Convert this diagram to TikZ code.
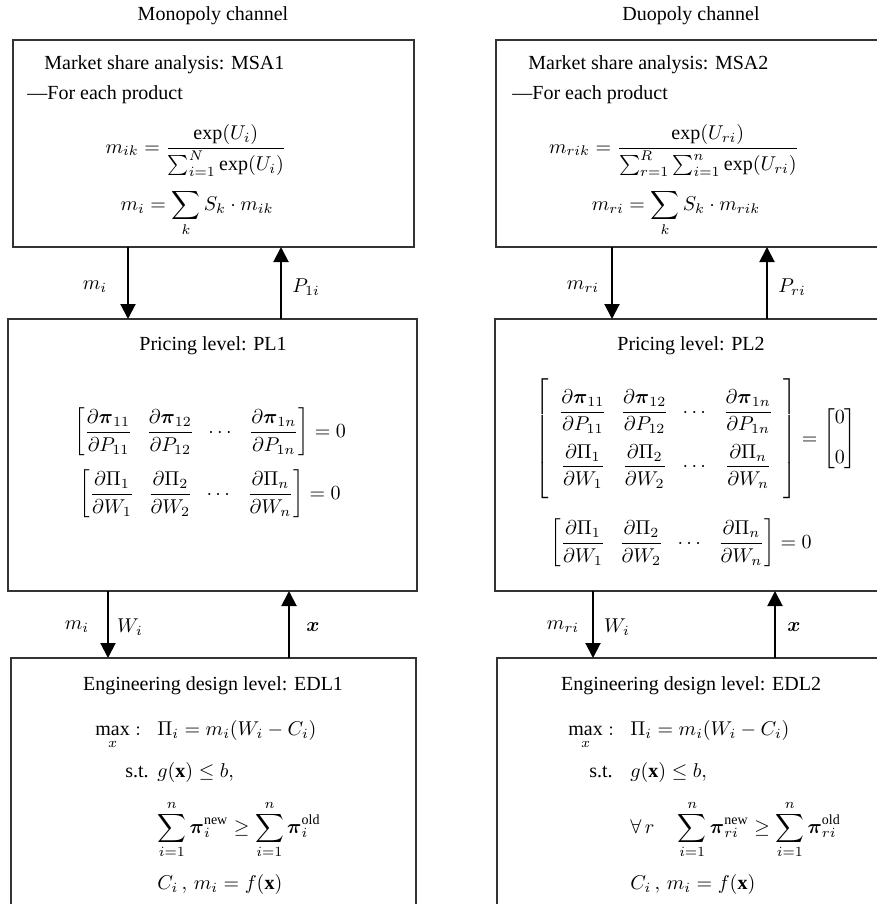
\documentclass[tikz,border=0pt]{standalone}
\usepackage{amsmath,amssymb}
\usepackage{fontspec}
\setmainfont{Liberation Serif}
\usetikzlibrary{arrows.meta}
\setlength{\arraycolsep}{3.5pt}
\begin{document}
\begin{tikzpicture}[x=0.5pt,y=-0.5pt,
  box/.style={draw=black!80, line width=0.75pt, inner sep=0pt, outer sep=0pt, rectangle},
  arr/.style={line width=1pt, -{Triangle[width=7.5pt,length=7.5pt]}},
  lbl/.style={inner sep=0pt},
  txt/.style={inner sep=0pt}]
\useasboundingbox (0,0) rectangle (877,904);
\clip (0,0) rectangle (877,904);

% titles
\node[txt, anchor=base] (t1) at (213,21) {Monopoly channel};
\node[txt, anchor=base] (t2) at (691,21) {Duopoly channel};

% boxes
\node[box, minimum width=200.5pt, minimum height=103.5pt] (msa1) at (213.5,143.5) {};
\node[box, minimum width=204.5pt, minimum height=136pt] (pl1) at (212.5,455) {};
\node[box, minimum width=202.5pt, minimum height=136pt] (edl1) at (213.5,794) {};
\node[box, minimum width=202pt, minimum height=103.5pt] (msa2) at (698,143.5) {};
\node[box, minimum width=202.5pt, minimum height=136pt] (pl2) at (697.5,455) {};
\node[box, minimum width=201.5pt, minimum height=136pt] (edl2) at (698.5,794) {};

% MSA1
\node[txt, anchor=base west] (msa1t) at (44,70) {Market share analysis: MSA1};
\node[txt, anchor=base west] (msa1f) at (27,100) {---For each product};
\node[txt, anchor=base] (msa1e1) at (196,153) {$\displaystyle m_{ik}=\frac{\exp(U_i)}{\sum_{i=1}^{N}\exp(U_i)}$};
\node[txt, anchor=base] (msa1e2) at (197,210) {$\displaystyle m_{i}=\sum_{k} S_k\cdot m_{ik}$};

% MSA2
\node[txt, anchor=base west] (msa2t) at (528,70) {Market share analysis: MSA2};
\node[txt, anchor=base west] (msa2f) at (512,100) {---For each product};
\node[txt, anchor=base] (msa2e1) at (674,153) {$\displaystyle m_{rik}=\frac{\exp(U_{ri})}{\sum_{r=1}^{R}\sum_{i=1}^{n}\exp(U_{ri})}$};
\node[txt, anchor=base] (msa2e2) at (676,210) {$\displaystyle m_{ri}=\sum_{k} S_k\cdot m_{rik}$};

% PL1
\node[txt, anchor=base] (pl1t) at (213,350) {Pricing level: PL1};
\node[txt, anchor=base] (pl1e1) at (210,437) {$\begin{bmatrix}\dfrac{\partial\boldsymbol{\pi}_{11}}{\partial P_{11}} & \dfrac{\partial\boldsymbol{\pi}_{12}}{\partial P_{12}} & \cdots & \dfrac{\partial\boldsymbol{\pi}_{1n}}{\partial P_{1n}}\end{bmatrix}=0$};
\node[txt, anchor=base] (pl1e2) at (210,499) {$\begin{bmatrix}\dfrac{\partial\Pi_{1}}{\partial W_{1}} & \dfrac{\partial\Pi_{2}}{\partial W_{2}} & \cdots & \dfrac{\partial\Pi_{n}}{\partial W_{n}}\end{bmatrix}=0$};

% PL2
\node[txt, anchor=base] (pl2t) at (691,350) {Pricing level: PL2};
\node[txt, anchor=base] (pl2e1) at (696,444) {$\left[\rule[-27.5pt]{0pt}{60pt}\hspace{5pt}\begin{matrix}\dfrac{\partial\boldsymbol{\pi}_{11}}{\partial P_{11}} & \dfrac{\partial\boldsymbol{\pi}_{12}}{\partial P_{12}} & \cdots & \dfrac{\partial\boldsymbol{\pi}_{1n}}{\partial P_{1n}}\\[10pt] \dfrac{\partial\Pi_{1}}{\partial W_{1}} & \dfrac{\partial\Pi_{2}}{\partial W_{2}} & \cdots & \dfrac{\partial\Pi_{n}}{\partial W_{n}}\end{matrix}\hspace{5pt}\right]=\begin{bmatrix}0\\[8pt]0\end{bmatrix}$};
\node[txt, anchor=base] (pl2e2) at (681,548) {$\begin{bmatrix}\dfrac{\partial\Pi_{1}}{\partial W_{1}} & \dfrac{\partial\Pi_{2}}{\partial W_{2}} & \cdots & \dfrac{\partial\Pi_{n}}{\partial W_{n}}\end{bmatrix}=0$};

% EDL1
\node[txt, anchor=base] (edl1t) at (213,690) {Engineering design level: EDL1};
\node[txt, anchor=base west] (edl1max) at (95,735) {$\displaystyle\max_{x}:$};
\node[txt, anchor=base west] (edl1obj) at (157,735) {$\Pi_i=m_i(W_i-C_i)$};
\node[txt, anchor=base west] (edl1st) at (125,777) {s.t.};
\node[txt, anchor=base west] (edl1g) at (157,777) {$g(\mathbf{x})\le b,$};
\node[txt, anchor=base west] (edl1s) at (157,833) {$\displaystyle\sum_{i=1}^{n}\boldsymbol{\pi}_i^{\mathrm{new}}\ge\sum_{i=1}^{n}\boldsymbol{\pi}_i^{\mathrm{old}}$};
\node[txt, anchor=base west] (edl1c) at (157,889) {$C_i\,,\,m_i=f(\mathbf{x})$};

% EDL2
\node[txt, anchor=base] (edl2t) at (691,690) {Engineering design level: EDL2};
\node[txt, anchor=base west] (edl2max) at (568,735) {$\displaystyle\max_{x}:$};
\node[txt, anchor=base west] (edl2obj) at (630,735) {$\Pi_i=m_i(W_i-C_i)$};
\node[txt, anchor=base west] (edl2st) at (589,777) {s.t.};
\node[txt, anchor=base west] (edl2g) at (630,777) {$g(\mathbf{x})\le b,$};
\node[txt, anchor=base west] (edl2s) at (630,833) {$\displaystyle\forall\,r\quad\sum_{i=1}^{n}\boldsymbol{\pi}_{ri}^{\mathrm{new}}\ge\sum_{i=1}^{n}\boldsymbol{\pi}_{ri}^{\mathrm{old}}$};
\node[txt, anchor=base west] (edl2c) at (630,889) {$C_i\,,\,m_i=f(\mathbf{x})$};

% arrow x positions
\coordinate (xa) at (128,0);
\coordinate (xb) at (281,0);
\coordinate (xc) at (108,0);
\coordinate (xd) at (289,0);
\coordinate (xe) at (612,0);
\coordinate (xf) at (767,0);
\coordinate (xg) at (593,0);
\coordinate (xh) at (775,0);

% arrows left
\draw[arr] (msa1.south -| xa) -- (pl1.north -| xa);
\draw[arr] (pl1.north -| xb) -- (msa1.south -| xb);
\draw[arr] (pl1.south -| xc) -- (edl1.north -| xc);
\draw[arr] (edl1.north -| xd) -- (pl1.south -| xd);
% arrows right
\draw[arr] (msa2.south -| xe) -- (pl2.north -| xe);
\draw[arr] (pl2.north -| xf) -- (msa2.south -| xf);
\draw[arr] (pl2.south -| xg) -- (edl2.north -| xg);
\draw[arr] (edl2.north -| xh) -- (pl2.south -| xh);

% labels
\node[lbl] (l1) at (95,287) {$m_i$};
\node[lbl] (l2) at (306,287) {$P_{1i}$};
\node[lbl] (l3) at (77,627) {$m_i$};
\node[lbl] (l4) at (130,627) {$W_i$};
\node[lbl] (l5) at (313,627) {$\boldsymbol{x}$};
\node[lbl] (l6) at (583,287) {$m_{ri}$};
\node[lbl] (l7) at (792,287) {$P_{ri}$};
\node[lbl] (l8) at (563,627) {$m_{ri}$};
\node[lbl] (l9) at (617,627) {$W_i$};
\node[lbl] (l10) at (794,627) {$\boldsymbol{x}$};
\end{tikzpicture}
\end{document}
